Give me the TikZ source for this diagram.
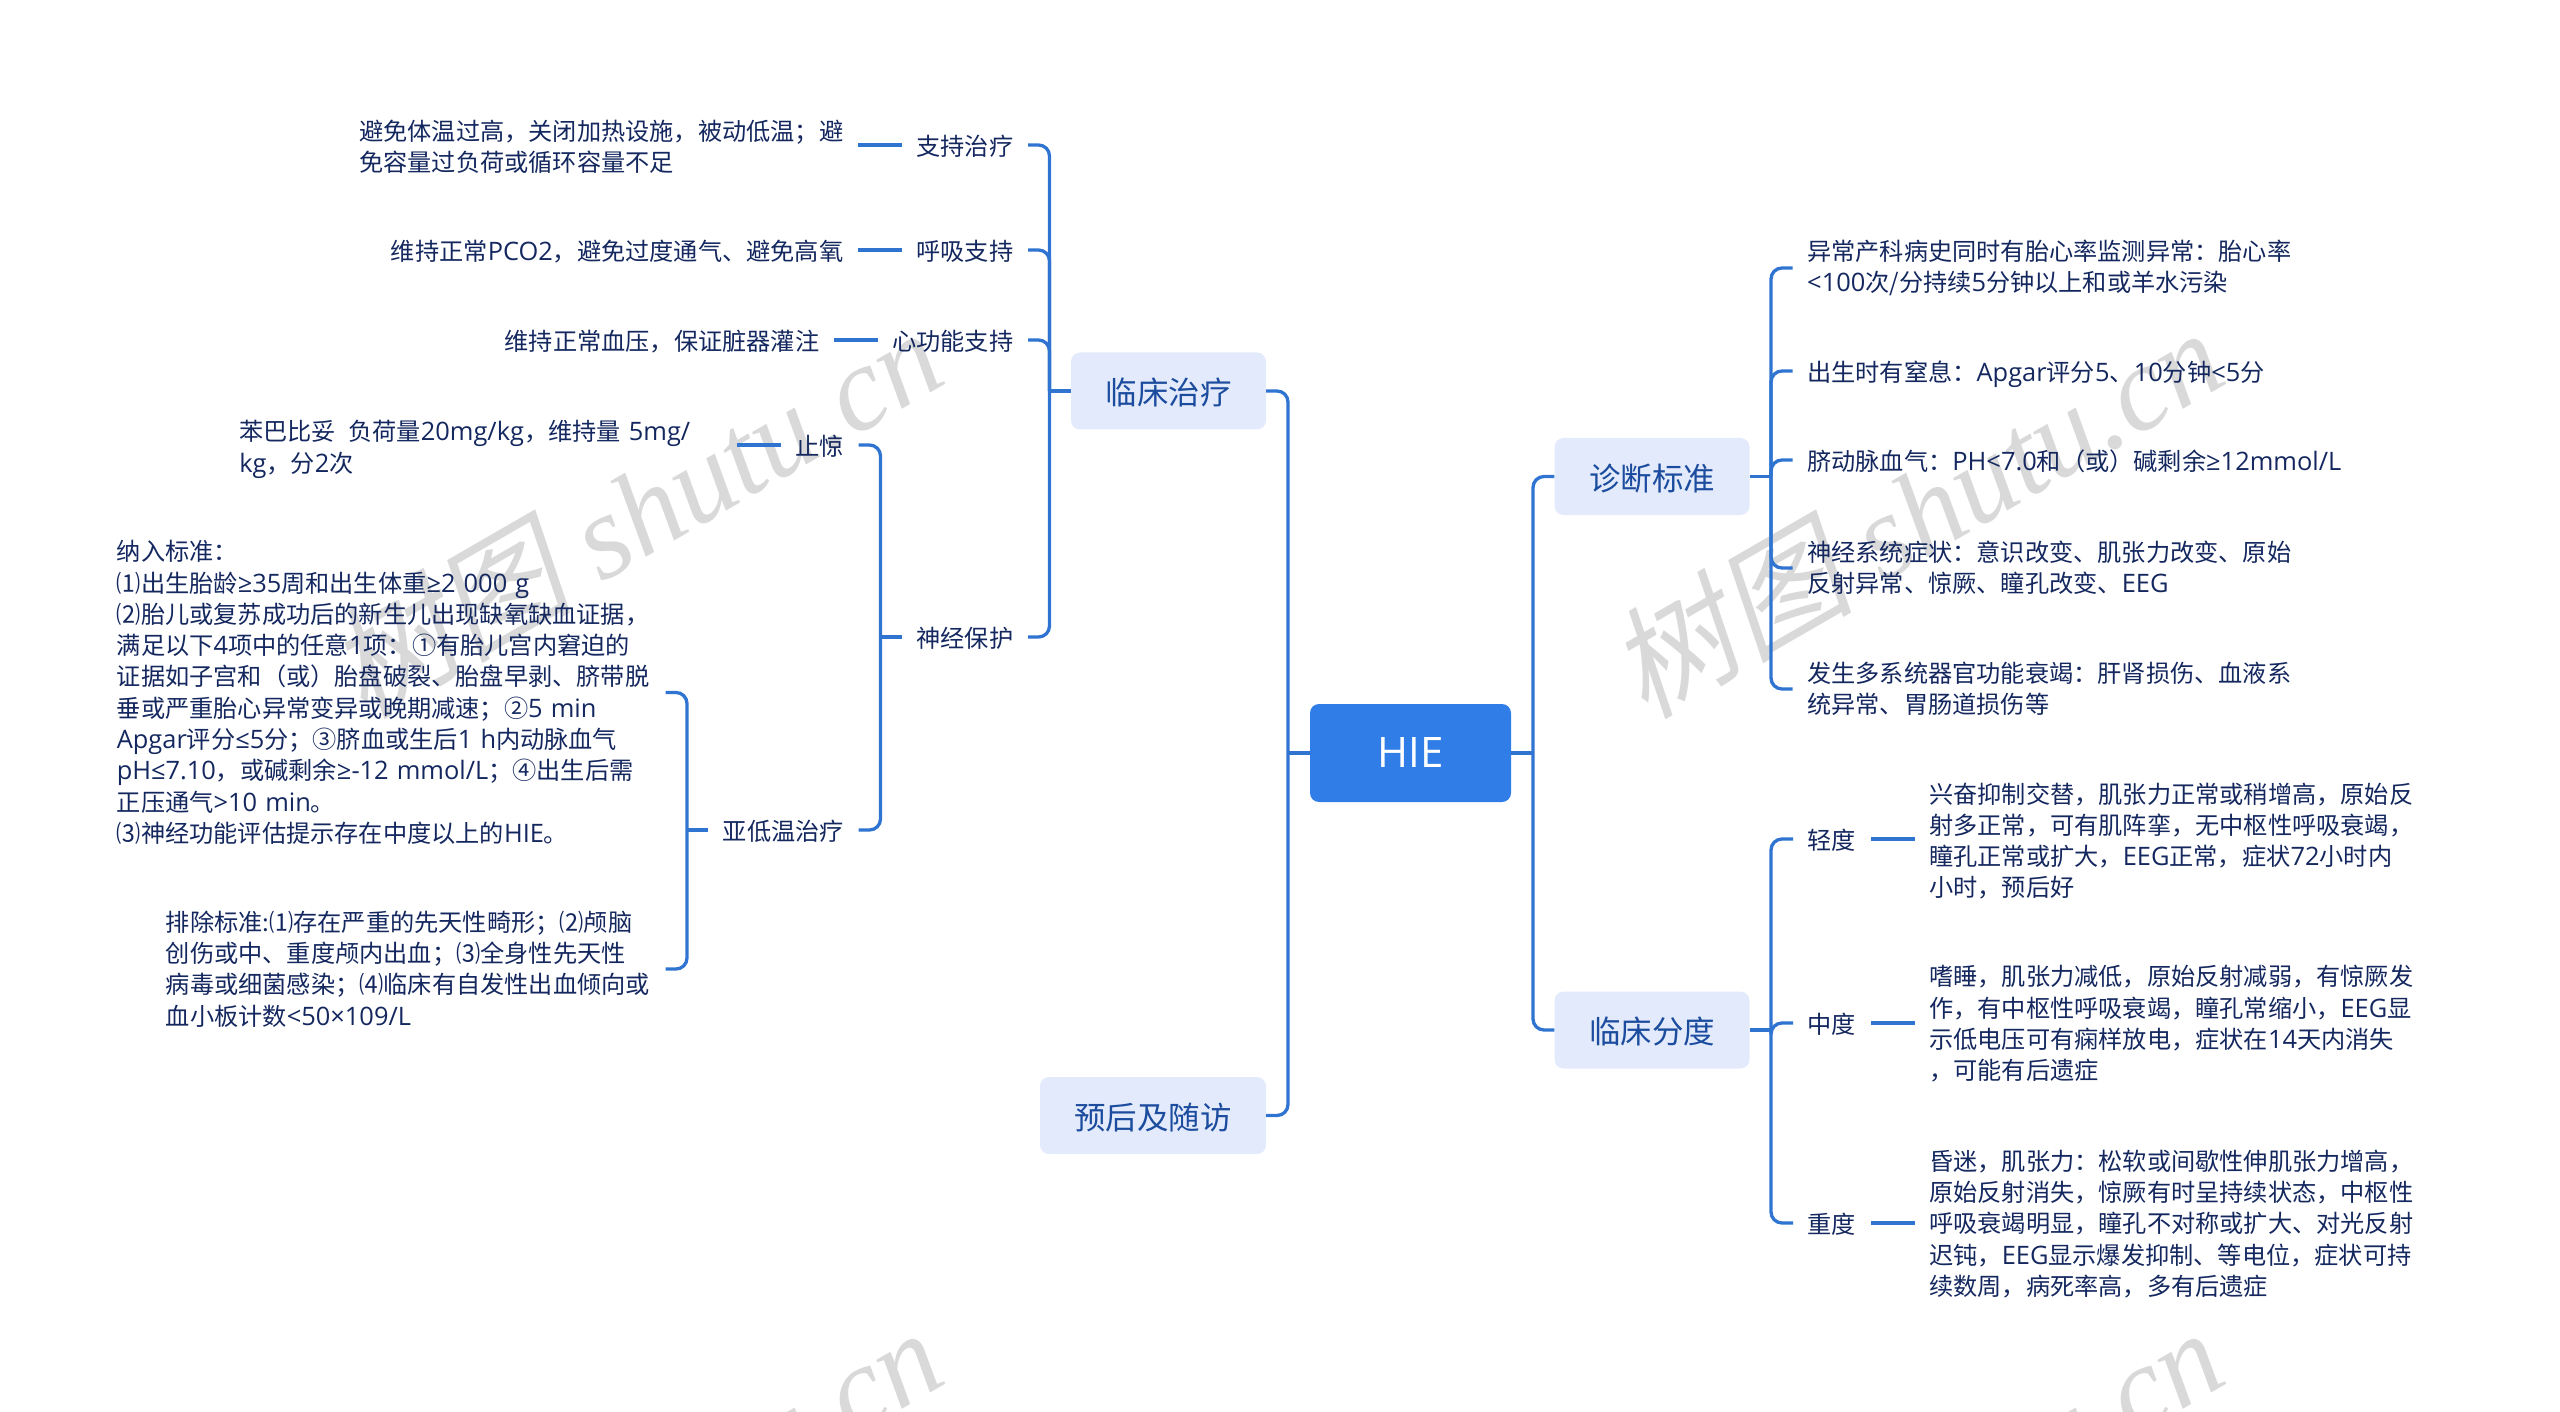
\documentclass[tikz,border=0pt]{standalone}
\usepackage{fontspec}
\setmainfont{Noto Sans CJK SC}
\newfontfamily\ltnfont[Scale=1.05]{Open Sans}
\newfontfamily\rootfont{Open Sans}
\newfontfamily\wmcjk[FakeSlant=0.2]{Noto Sans CJK SC}
\newfontfamily\wmlat{Liberation Serif}[ItalicFont={Liberation Serif Italic}]
\newcommand\ltn[1]{{\ltnfont #1}}
\newcommand\wmtext{{\fontsize{122}{140}\selectfont\wmcjk 树图} shutu.cn}
\definecolor{linkc}{HTML}{2F74D0}
\definecolor{boxc}{HTML}{E3EAFB}
\definecolor{rootc}{HTML}{307DE8}
\definecolor{headc}{HTML}{1B4C9E}
\definecolor{bodyc}{HTML}{14285F}
\definecolor{wmc}{HTML}{D9D9D9}
\tikzset{
  x=1pt,y=-1pt,
  conn/.style={draw=linkc,line width=3.3pt,rounded corners=11pt},
  rootbox/.style={fill=rootc,rounded corners=9pt,text=white,font=\fontsize{42}{50}\selectfont\rootfont,anchor=center,inner sep=0pt,minimum width=201pt,minimum height=98pt},
  headbox/.style={fill=boxc,rounded corners=9pt,text=headc,font=\fontsize{31.5}{40}\selectfont,anchor=center,inner sep=0pt,minimum height=77pt,text height=30pt,text depth=3pt},
  tag/.style={text=bodyc,font=\fontsize{24.2}{31}\selectfont,inner xsep=14.5pt,inner ysep=0pt,text height=23pt,text depth=2pt},
  body/.style={text=bodyc,font=\fontsize{24.2}{31.3}\selectfont,align=left,inner xsep=14.5pt,inner ysep=0pt},
  wm/.style={text=wmc,rotate=30,anchor=west,font=\fontsize{120}{130}\selectfont\wmlat\itshape,inner sep=0pt},
}
\begin{document}
\begin{tikzpicture}
\useasboundingbox (0,0) rectangle (2560,1412);
% watermarks
\node[wm] (wma) at (341,680) {\wmtext};
\node[wm] (wmb) at (1622,680) {\wmtext};
\node[wm] (wmc) at (341,1680) {\wmtext};
\node[wm] (wmd) at (1622,1680) {\wmtext};
% main boxes
\node[rootbox] (root) at (1410.5,753) {HIE};
\node[headbox,minimum width=195pt] (treat) at (1168.5,391) {临床治疗};
\node[headbox,minimum width=226pt] (prog) at (1153,1115.5) {预后及随访};
\node[headbox,minimum width=195pt] (diag) at (1652,476.5) {诊断标准};
\node[headbox,minimum width=195pt] (grade) at (1652,1030) {临床分度};
\coordinate (hubL) at (1288,753);
\coordinate (hubR) at (1533,753);
\draw[conn] (root.west) -- (hubL);
\draw[conn] (root.east) -- (hubR);
\draw[conn] (hubL) |- (treat.east);
\draw[conn] (hubL) |- (prog.east);
\draw[conn] (hubR) |- (diag.west);
\draw[conn] (hubR) |- (grade.west);
% treatment labels
\node[tag,anchor=east] (t1) at (1028,145) {支持治疗};
\node[tag,anchor=east] (t2) at (1028,250) {呼吸支持};
\node[tag,anchor=east] (t3) at (1028,340) {心功能支持};
\node[tag,anchor=east] (t4) at (1028,637) {神经保护};
\node[tag,anchor=east] (t5) at (858.5,445) {止惊};
\node[tag,anchor=east] (t6) at (858.5,830) {亚低温治疗};
\coordinate (hubT) at (1049.5,391);
\draw[conn] (treat.west) -- (hubT);
\foreach \n in {t1,t2,t3,t4} \draw[conn] (hubT) |- (\n.east);
\coordinate (hubN) at (880.5,637);
\draw[conn] (t4.west) -- (hubN);
\foreach \n in {t5,t6} \draw[conn] (hubN) |- (\n.east);
\node[body,anchor=east] (d1) at (858,147) {避免体温过高，关闭加热设施，被动低温；避\\免容量过负荷或循环容量不足};
\node[tag,anchor=east] (d2) at (858,250) {维持正常\ltn{PCO2}，避免过度通气、避免高氧};
\node[tag,anchor=east] (d3) at (834,340) {维持正常血压，保证脏器灌注};
\node[body,anchor=east,text width=483pt] (d4) at (737,449.5) {苯巴比妥\hspace*{0.5em}负荷量\ltn{20mg/kg}，维持量 \ltn{5mg/}\\\ltn{kg}，分\ltn{2}次};
\draw[conn] (t1.west) -- (d1.east |- t1.west);
\draw[conn] (t2.west) -- (d2.east);
\draw[conn] (t3.west) -- (d3.east);
\draw[conn] (t5.west) -- (d4.east |- t5.west);
% hypothermia
\node[body,anchor=east,text width=534pt] (h1) at (665.5,692.5) {纳入标准：\\⑴出生胎龄\ltn{≥35}周和出生体重\ltn{≥2 000 g}\\⑵胎儿或复苏成功后的新生儿出现缺氧缺血证据，\\满足以下\ltn{4}项中的任意\ltn{1}项：①有胎儿宫内窘迫的\\证据如子宫和（或）胎盘破裂、胎盘早剥、脐带脱\\垂或严重胎心异常变异或晚期减速；②\ltn{5 min}\\\ltn{Apgar}评分\ltn{≤5}分；③脐血或生后\ltn{1 h}内动脉血气\\\ltn{pH≤7.10}，或碱剩余\ltn{≥-12 mmol/L}；④出生后需\\正压通气\ltn{>10 min}。\\⑶神经功能评估提示存在中度以上的\ltn{HIE}。};
\node[body,anchor=east,text width=485pt] (h2) at (665.5,969) {排除标准:⑴存在严重的先天性畸形；⑵颅脑\\创伤或中、重度颅内出血；⑶全身性先天性\\病毒或细菌感染；⑷临床有自发性出血倾向或\\血小板计数\ltn{<50×109/L}};
\coordinate (hubH) at (687,830);
\draw[conn] (t6.west) -- (hubH);
\draw[conn] (hubH) |- (h1.east);
\draw[conn] (hubH) |- (h2.east);
% diagnosis
\node[body,anchor=west] (c1) at (1792.5,268) {异常产科病史同时有胎心率监测异常：胎心率\\\ltn{<100}次/分持续\ltn{5}分钟以上和或羊水污染};
\node[tag,anchor=west] (c2) at (1792.5,371) {出生时有窒息：\ltn{Apgar}评分\ltn{5}、\ltn{10}分钟\ltn{<5}分};
\node[tag,anchor=west] (c3) at (1792.5,460) {脐动脉血气：\ltn{PH<7.0}和（或）碱剩余\ltn{≥12mmol/L}};
\node[body,anchor=west] (c4) at (1792.5,568) {神经系统症状：意识改变、肌张力改变、原始\\反射异常、惊厥、瞳孔改变、\ltn{EEG}};
\node[body,anchor=west] (c5) at (1792.5,689) {发生多系统器官功能衰竭：肝肾损伤、血液系\\统异常、胃肠道损伤等};
\coordinate (hubD) at (1771,476.5);
\draw[conn] (diag.east) -- (hubD);
\foreach \n in {c1,c2,c3,c4,c5} \draw[conn] (hubD) |- (\n.west);
% grading
\node[tag,anchor=west] (g1) at (1793,839) {轻度};
\node[tag,anchor=west] (g2) at (1793,1023) {中度};
\node[tag,anchor=west] (g3) at (1793,1223) {重度};
\coordinate (hubG) at (1771,1030);
\draw[conn] (grade.east) -- (hubG);
\foreach \n in {g1,g2,g3} \draw[conn] (hubG) |- (\n.west);
\node[body,anchor=west] (e1) at (1914.5,841) {兴奋抑制交替，肌张力正常或稍增高，原始反\\射多正常，可有肌阵挛，无中枢性呼吸衰竭，\\瞳孔正常或扩大，\ltn{EEG}正常，症状\ltn{72}小时内\\小时，预后好};
\node[body,anchor=west] (e2) at (1914.5,1024) {嗜睡，肌张力减低，原始反射减弱，有惊厥发\\作，有中枢性呼吸衰竭，瞳孔常缩小，\ltn{EEG}显\\示低电压可有痫样放电，症状在\ltn{14}天内消失\\，可能有后遗症};
\node[body,anchor=west] (e3) at (1914.5,1224) {昏迷，肌张力：松软或间歇性伸肌张力增高，\\原始反射消失，惊厥有时呈持续状态，中枢性\\呼吸衰竭明显，瞳孔不对称或扩大、对光反射\\迟钝，\ltn{EEG}显示爆发抑制、等电位，症状可持\\续数周，病死率高，多有后遗症};
\draw[conn] (g1.east) -- (e1.west |- g1.east);
\draw[conn] (g2.east) -- (e2.west |- g2.east);
\draw[conn] (g3.east) -- (e3.west |- g3.east);
\end{tikzpicture}
\end{document}
